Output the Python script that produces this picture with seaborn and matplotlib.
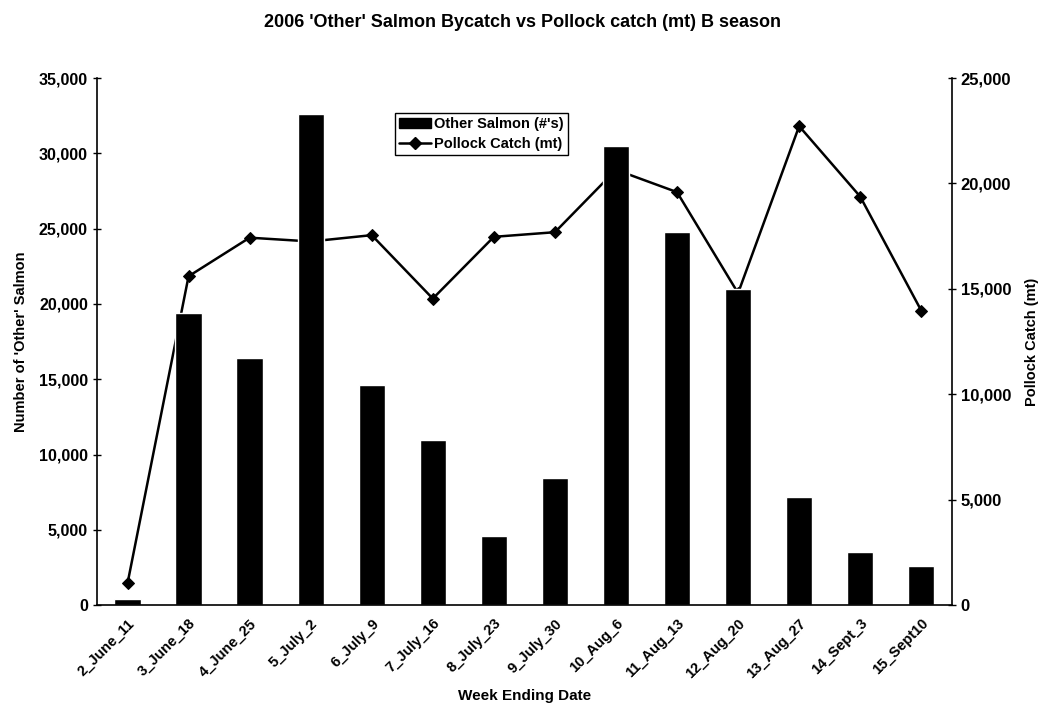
import numpy as np
import pandas as pd
import matplotlib
matplotlib.use("Agg")
import matplotlib.pyplot as plt
import matplotlib.ticker as mticker
from matplotlib.patches import Patch
from matplotlib.lines import Line2D
import seaborn as sns

# Dados
weeks = ["2_June_11", "3_June_18", "4_June_25", "5_July_2", "6_July_9", "7_July_16",
         "8_July_23", "9_July_30", "10_Aug_6", "11_Aug_13", "12_Aug_20", "13_Aug_27",
         "14_Sept_3", "15_Sept10"]
other_salmon = [400, 19400, 16400, 32600, 14600, 10950, 4600, 8470, 30500, 24800,
                21000, 7150, 3540, 2600]
pollock_catch = [1030, 15600, 17430, 17250, 17550, 14540, 17470, 17690, 20650, 19590,
                 14800, 22720, 19380, 13970]

df = pd.DataFrame({"week": weeks, "salmon": other_salmon, "pollock": pollock_catch})
df["pos"] = np.arange(len(df))

sns.set_theme(style="white")
plt.rcParams['font.family'] = ['Liberation Sans', 'DejaVu Sans']
plt.rcParams['font.weight'] = 'bold'
for key in ['text.color', 'axes.labelcolor', 'xtick.color', 'ytick.color']:
    plt.rcParams[key] = 'black'

fig = plt.figure(figsize=(10.45, 7.23), dpi=100)
ax = fig.add_axes([0.0928, 0.163, 0.818, 0.729])
ax2 = ax.twinx()

# barras na frente da linha, como no original
ax.set_zorder(ax2.get_zorder() + 1)
ax.patch.set_visible(False)

sns.barplot(data=df, x="week", y="salmon", color="black", width=0.43,
            saturation=1, ax=ax)
sns.lineplot(data=df, x="pos", y="pollock", color="black", marker="D",
             markersize=6, linewidth=1.8, markeredgecolor="black", ax=ax2)

ax.set_xlim(-0.5, len(weeks) - 0.5)
ax.set_ylim(0, 35000)
ax2.set_ylim(0, 25000)
ax.yaxis.set_major_locator(mticker.MultipleLocator(5000))
ax2.yaxis.set_major_locator(mticker.MultipleLocator(5000))
fmt = mticker.FuncFormatter(lambda v, p: f"{int(v):,}")
ax.yaxis.set_major_formatter(fmt)
ax2.yaxis.set_major_formatter(fmt)

# marcas do eixo x entre as categorias
ax.set_xticks(np.arange(len(weeks)))
ax.set_xticklabels(weeks, rotation=45, ha="right", rotation_mode="anchor",
                   fontsize=10.5, fontweight="bold")
ax.set_xticks(np.arange(-0.5, len(weeks)), minor=True)
ax.tick_params(axis="x", which="major", length=0, pad=8)
ax.tick_params(axis="x", which="minor", length=6, direction="inout", width=1, color="black")
ax.tick_params(axis="y", length=6, direction="inout", width=1, color="black",
               labelsize=11.5)
ax2.tick_params(axis="y", length=6, direction="inout", width=1, color="black",
                labelsize=12)
for t in ax.get_yticklabels() + ax2.get_yticklabels():
    t.set_fontweight("bold")

for a in (ax, ax2):
    a.spines["top"].set_visible(False)
    for side in ["left", "bottom", "right"]:
        a.spines[side].set_color("black")
        a.spines[side].set_linewidth(1.2)
ax.spines["right"].set_visible(False)
ax2.spines["left"].set_visible(False)
ax2.spines["bottom"].set_visible(False)
ax.grid(False)
ax2.grid(False)

ax.set_xlabel("Week Ending Date", fontsize=11, fontweight="bold", labelpad=6)
ax.set_ylabel("Number of 'Other' Salmon", fontsize=10.5, fontweight="bold", labelpad=8)
ax2.set_ylabel("Pollock Catch (mt)", fontsize=10.5, fontweight="bold", labelpad=10)

fig.suptitle("2006 'Other' Salmon Bycatch vs Pollock catch (mt) B season",
             fontsize=13, fontweight="bold", y=0.98)

handles = [Patch(facecolor="black", edgecolor="black"),
           Line2D([0], [0], color="black", marker="D", markersize=6, linewidth=1.8)]
leg = ax.legend(handles, ["Other Salmon (#'s)", "Pollock Catch (mt)"],
                loc="upper left", bbox_to_anchor=(0.34, 0.948), frameon=True,
                fancybox=False, framealpha=1, edgecolor="black", borderpad=0.3,
                handlelength=2.2, handletextpad=0.2, labelspacing=0.4,
                prop={"size": 10.5, "weight": "bold"})
leg.get_frame().set_linewidth(1)
if ax2.get_legend() is not None:
    ax2.get_legend().remove()

fig.savefig("out.png", dpi=100)
